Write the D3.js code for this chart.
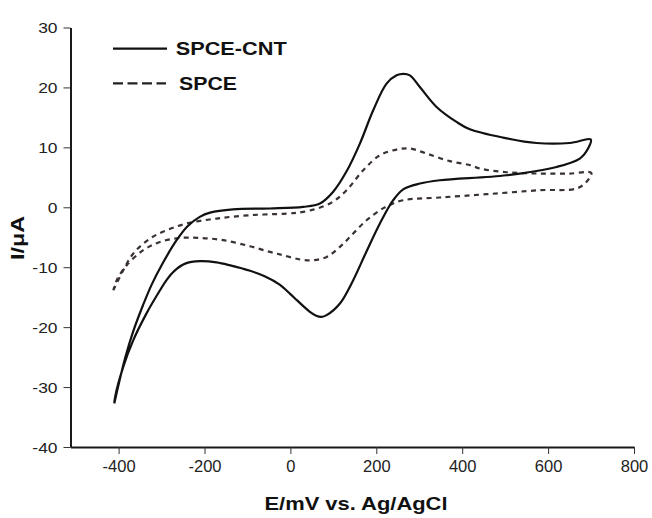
<!DOCTYPE html>
<html><head><meta charset="utf-8">
<script src="https://cdn.jsdelivr.net/npm/d3@7"></script>
<style>html,body{margin:0;padding:0;background:#fff;}svg{display:block;}</style>
</head><body>
<svg id="chart" width="652" height="518"></svg>
<script>
// ---- data ----
const xTicks = [-400, -200, 0, 200, 400, 600, 800];
const yTicks = [-40, -30, -20, -10, 0, 10, 20, 30];
const seriesNames = ["SPCE-CNT", "SPCE"];

const cntPotential = [-410, -385, -366, -343, -323, -297, -265, -240, -211, -187, -134, -48, 29.8, 68.7, 99.7, 130.8, 161.8, 192.8, 223.9, 247.2, 262.6, 278.2, 301.4, 340.3, 386.8, 417.8, 495.3, 573.0, 650.5, 699.4,
  693.1, 673.8, 619.6, 503.2, 348.0, 301.4, 262.6, 239.3, 208.4, 175, 146.2, 115.3, 84.3, 72.6, 60, 45.4, 30, 15, 0, -25, -60, -94, -140, -172, -210, -245, -270, -288, -310, -335, -366, -389, -408, -410];
const cntCurrent = [-32.73, -25.2, -20.7, -16.3, -12.9, -9.3, -5.5, -3.2, -1.6, -0.9, -0.35, -0.2, 0.06, 0.63, 2.6, 6.0, 10.63, 16.19, 20.64, 22.02, 22.27, 22.02, 20.07, 16.74, 14.24, 13.02, 11.63, 10.73, 10.73, 11.30,
  9.80, 8.13, 6.73, 5.35, 4.51, 3.96, 3.0, 1.18, -2.7, -7.7, -12.16, -16.05, -18.0, -18.29, -18.1, -17.45, -16.5, -15.5, -14.5, -12.9, -11.5, -10.6, -9.7, -9.2, -9.0, -9.4, -10.6, -12.1, -14.6, -17.7, -22.2, -26.6, -31.6, -32.73];

const spcePotential = [-412.3, -389.1, -365.8, -326.9, -288.1, -241.5, -171.7, -94.2, -10, 29.8, 92.0, 130.8, 169.5, 208.4, 247.2, 278.2, 317.0, 371.2, 420, 441.1, 503.2, 580.7, 650.5, 700.5,
  689.3, 666.1, 580.7, 456.7, 348.0, 262.6, 230, 208.4, 177.4, 146.2, 115.3, 84.3, 53.1, 22.2, -16.7, -47.7, -94.2, -156.3, -210.6, -257.1, -303.6, -342.5, -381.1, -404.4, -412.3];
const spceCurrent = [-13.83, -10.50, -7.71, -5.21, -3.83, -2.71, -1.88, -1.32, -1.05, -0.77, 0.63, 2.85, 6.18, 8.68, 9.63, 9.80, 8.97, 7.7, 7.0, 6.46, 5.85, 5.63, 5.63, 5.73,
  4.23, 3.13, 2.85, 2.18, 1.63, 1.18, 0.34, -0.49, -2.16, -4.38, -6.61, -8.28, -8.83, -8.71, -8.0, -7.45, -6.50, -5.49, -5.11, -5.11, -5.78, -7.16, -9.66, -12.16, -13.83];

// ---- drawing ----
const svg = d3.select("#chart");
const x = d3.scaleLinear().domain([-512, 800]).range([70.5, 634]);
const y = d3.scaleLinear().domain([-40, 30]).range([447, 27.5]);
const fmt = d => String(d);

function stretch(sel, f) {
  sel.each(function () {
    const w = this.getComputedTextLength();
    d3.select(this).attr("textLength", w * f).attr("lengthAdjust", "spacingAndGlyphs");
  });
}

// x axis
const gx = svg.append("g").attr("transform", `translate(0,${y(-40)})`)
  .call(d3.axisBottom(x).tickValues(xTicks).tickSize(7).tickSizeOuter(0).tickFormat(fmt));
gx.select(".domain").attr("stroke", "#1a1a1a").attr("stroke-width", 2);
gx.selectAll(".tick line").attr("stroke", "#333").attr("stroke-width", 1);
gx.selectAll(".tick text").attr("y", 25).attr("dy", 0)
  .attr("font-family", "Liberation Sans, Arial, sans-serif").attr("font-size", 16.5).attr("fill", "#222");

// y axis
const gy = svg.append("g").attr("transform", `translate(${x(-512)},0)`)
  .call(d3.axisLeft(y).tickValues(yTicks).tickSize(7).tickSizeOuter(0).tickFormat(fmt));
gy.select(".domain").attr("stroke", "#1a1a1a").attr("stroke-width", 2);
gy.selectAll(".tick line").attr("stroke", "#333").attr("stroke-width", 1);
gy.selectAll(".tick text").attr("x", -13).attr("dy", "0.35em")
  .attr("font-family", "Liberation Sans, Arial, sans-serif").attr("font-size", 14.5).attr("fill", "#222")
  .call(stretch, 1.2);

// curves
const line = d3.line().x(d => x(d[0])).y(d => y(d[1])).curve(d3.curveCatmullRom.alpha(0.5));
const cnt = cntPotential.map((e, i) => [e, cntCurrent[i]]);
const spce = spcePotential.map((e, i) => [e, spceCurrent[i]]);

svg.append("path").attr("d", line(spce)).attr("fill", "none")
  .attr("stroke", "#3a3232").attr("stroke-width", 2.2).attr("stroke-dasharray", "5,4.5");
svg.append("path").attr("d", line(cnt)).attr("fill", "none")
  .attr("stroke", "#111").attr("stroke-width", 2.2).attr("stroke-linejoin", "round");

// legend
const leg = svg.append("g");
leg.append("line").attr("x1", 113).attr("x2", 167).attr("y1", 48.7).attr("y2", 48.7)
  .attr("stroke", "#111").attr("stroke-width", 2.2);
leg.append("text").attr("x", 175.7).attr("y", 55).text(seriesNames[0])
  .attr("font-family", "Liberation Sans, Arial, sans-serif").attr("font-weight", "bold")
  .attr("font-size", 18.5).attr("fill", "#111").attr("textLength", 111).attr("lengthAdjust", "spacingAndGlyphs");
leg.append("line").attr("x1", 113).attr("x2", 166).attr("y1", 83.3).attr("y2", 83.3)
  .attr("stroke", "#222").attr("stroke-width", 2.2).attr("stroke-dasharray", "10,4.5");
leg.append("text").attr("x", 179).attr("y", 90).text(seriesNames[1])
  .attr("font-family", "Liberation Sans, Arial, sans-serif").attr("font-weight", "bold")
  .attr("font-size", 18.5).attr("fill", "#111").attr("textLength", 58).attr("lengthAdjust", "spacingAndGlyphs");

// axis titles
svg.append("text").attr("x", 356).attr("y", 510).attr("text-anchor", "middle")
  .text("E/mV vs. Ag/AgCl")
  .attr("font-family", "Liberation Sans, Arial, sans-serif").attr("font-weight", "bold")
  .attr("font-size", 18.5).attr("fill", "#111").attr("textLength", 183).attr("lengthAdjust", "spacingAndGlyphs");
svg.append("text").attr("transform", "translate(23.5,238) rotate(-90)").attr("text-anchor", "middle")
  .text("I/μA")
  .attr("font-family", "Liberation Sans, Arial, sans-serif").attr("font-weight", "bold")
  .attr("font-size", 18).attr("fill", "#111").attr("textLength", 44).attr("lengthAdjust", "spacingAndGlyphs");
</script>
</body></html>
